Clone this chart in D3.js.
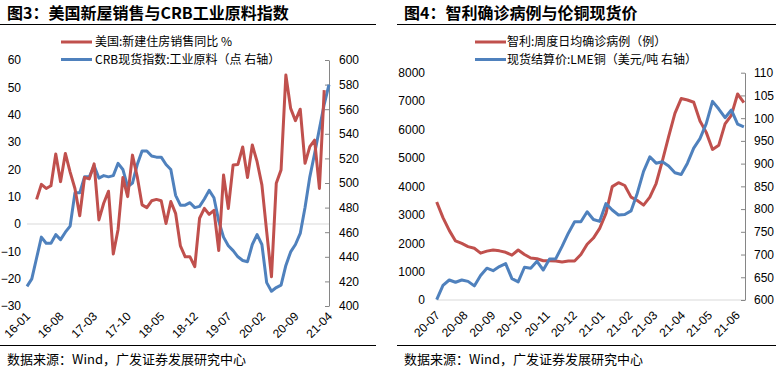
<!DOCTYPE html>
<html><head><meta charset="utf-8">
<script src="https://cdn.jsdelivr.net/npm/d3@7/dist/d3.min.js"></script>
<style>body{margin:0;background:#fff}svg{display:block}</style>
</head><body>
<svg id="c" width="776" height="370"></svg>
<script>
// ---------- Panel 1 data (monthly, 2016-01 .. 2021-04) ----------
const p1Start = new Date(2016, 0, 1), p1End = new Date(2021, 4, 1);
const salesYoY = [null,null,9,14.5,13,14,25.6,15.5,25.8,19,13,3,17,16.5,22,1.5,7.6,12,-11,-2,17,10,25.2,17.3,7,6,8.5,9,8.5,0.2,8.2,3.9,-8,-12,-12,-15.6,2.1,5.7,3.5,5,-9.7,17.9,5.7,21.6,21.8,28.2,17,28.9,22.8,14.3,-2.8,-19.3,14.9,19.8,54.5,42.3,37.8,42,22.2,28.3,30.7,13,49,null];
const crbIndex = [416,422,439,456,451,451,458,454,460,465,492,492,505,505,514,504,506,505,506,516,511,497,500,515,526,526,522,521,521,515,511,490,482,482,484,480,481,487,494,488,469,456,449,445,440,437,436,450,458,450,419,412,415,417,433,444,450,459,480,505,524,544,564,580];
const p1XTicks = ["16-01","16-08","17-03","17-10","18-05","18-12","19-07","20-02","20-09","21-04"];
const p1LeftTicks = [-30,-20,-10,0,10,20,30,40,50,60];
const p1RightTicks = [400,420,440,460,480,500,520,540,560,580,600];
const p1Title = "图3：美国新屋销售与CRB工业原料指数";
const p1Legend = ["美国:新建住房销售同比 %", "CRB现货指数:工业原料（点 右轴）"];

// ---------- Panel 2 data (weekly, from 2020-07-01) ----------
const p2Start = new Date(2020, 6, 1);
const chileCases = [3450,2900,2450,2080,1990,1880,1820,1650,1720,1760,1730,1680,1580,1760,1600,1480,1450,1380,1380,1370,1340,1370,1370,1600,1960,2180,2520,3050,3990,4130,4030,3620,3500,3340,3620,4100,4900,5750,6570,7090,7040,6960,6300,5900,5300,5450,6200,6500,7250,6950];
const lmeCopper = [6010,6320,6440,6390,6440,6410,6310,6540,6700,6645,6735,6800,6470,6400,6720,6700,6850,6660,6900,6910,7180,7470,7720,7720,7940,7770,7730,8120,7980,7870,7880,7960,8350,8830,9150,9010,9040,8950,8800,8760,9010,9340,9550,9880,10370,10200,10010,10180,9870,9810];
const p2XTicks = ["20-07","20-08","20-09","20-10","20-11","20-12","21-01","21-02","21-03","21-04","21-05","21-06"];
const p2LeftTicks = [0,1000,2000,3000,4000,5000,6000,7000,8000];
const p2RightTicks = [6000,6500,7000,7500,8000,8500,9000,9500,10000,10500,11000];
// right-axis labels as they appear in the reference (cut to three characters by the chart edge)
const p2RightLabels = ["600","650","700","750","800","850","900","950","100","105","110"];
const p2Title = "图4：智利确诊病例与伦铜现货价";
const p2Legend = ["智利:周度日均确诊病例（例）", "现货结算价:LME铜（美元/吨 右轴）"];

const sourceText = "数据来源：Wind，广发证券发展研究中心";

const RED = "#C0504D", BLUE = "#4F81BD";
const NUM = "'Liberation Sans', Arial, sans-serif";
const CJK = "'Noto Sans CJK SC', 'Noto Sans', sans-serif";

const svg = d3.select("#c");

function frame(x0, x1, title) {
  svg.append("text").attr("x", x0 + 7).attr("y", 18.5)
    .attr("font-family", CJK).attr("font-weight", "bold").attr("font-size", 16)
    .attr("fill", "#000").text(title);
  svg.append("line").attr("x1", x0).attr("x2", x1).attr("y1", 24.5).attr("y2", 24.5)
    .attr("stroke", "#000").attr("stroke-width", 1.2);
  svg.append("line").attr("x1", x0).attr("x2", x1).attr("y1", 345.5).attr("y2", 345.5)
    .attr("stroke", "#000").attr("stroke-width", 1.2);
  svg.append("text").attr("x", x0 + 7).attr("y", 363.5)
    .attr("font-family", CJK).attr("font-size", 13).attr("fill", "#000").text(sourceText);
}

function legend(lx, tx, labels) {
  [RED, BLUE].forEach((c, i) => {
    const y = 42 + i * 17.5;
    svg.append("line").attr("x1", lx).attr("x2", lx + 31).attr("y1", y).attr("y2", y)
      .attr("stroke", c).attr("stroke-width", 3);
    svg.append("text").attr("x", tx).attr("y", y).attr("dy", "0.35em")
      .attr("font-family", CJK).attr("font-size", 12).attr("fill", "#000").text(labels[i]);
  });
}

// ================= Panel 1 =================
frame(0, 376, p1Title);
const months1 = d3.timeMonth.range(p1Start, p1End);
const fmtM = d3.timeFormat("%y-%m");
const cats1 = months1.map(fmtM);
const x1 = d3.scalePoint().domain(cats1).range([27, 329]);
const yL1 = d3.scaleLinear().domain([-30, 60]).range([306, 60]);
const yR1 = d3.scaleLinear().domain([400, 600]).range([306, 60]);

svg.append("line").attr("x1", 27).attr("x2", 329).attr("y1", yL1(0)).attr("y2", yL1(0))
  .attr("stroke", "#d9d9d9").attr("stroke-width", 1);

const gL1 = svg.append("g").attr("transform", "translate(27,0)")
  .call(d3.axisLeft(yL1).tickValues(p1LeftTicks).tickSize(0).tickPadding(6));
gL1.select(".domain").remove();
gL1.selectAll("text").attr("font-family", NUM).attr("font-size", 12).attr("fill", "#000");

const gR1 = svg.append("g").attr("transform", "translate(329,0)")
  .call(d3.axisRight(yR1).tickValues(p1RightTicks).tickSize(0).tickPadding(10));
gR1.select(".domain").attr("stroke", "#868686");
gR1.selectAll(".tick line").attr("x1", -4).attr("x2", 0).attr("stroke", "#868686");
gR1.selectAll("text").attr("font-family", NUM).attr("font-size", 12).attr("fill", "#000");

svg.append("g").selectAll("text").data(p1XTicks).join("text")
  .attr("transform", d => `translate(${x1(d) + 1},314) rotate(-45)`)
  .attr("text-anchor", "end").attr("dy", "0.35em")
  .attr("font-family", NUM).attr("font-size", 12).attr("fill", "#000").text(d => d);

const line1L = d3.line().defined(d => d.v != null).x(d => x1(d.c)).y(d => yL1(d.v));
const line1R = d3.line().x(d => x1(d.c)).y(d => yR1(d.v));
svg.append("path").datum(cats1.map((c, i) => ({c, v: crbIndex[i]})))
  .attr("d", line1R).attr("fill", "none").attr("stroke", BLUE).attr("stroke-width", 3)
  .attr("stroke-linejoin", "round");
svg.append("path").datum(cats1.map((c, i) => ({c, v: salesYoY[i]})))
  .attr("d", line1L).attr("fill", "none").attr("stroke", RED).attr("stroke-width", 3)
  .attr("stroke-linejoin", "round");

legend(61, 95, p1Legend);

// ================= Panel 2 =================
frame(397, 776, p2Title);
const weeks = chileCases.map((_, k) => d3.timeDay.offset(p2Start, 7 * k));
const x2 = d3.scaleTime().domain([new Date(2020, 6, 1), new Date(2021, 5, 1)]).range([436.7, 736.7]);
const yL2 = d3.scaleLinear().domain([0, 8000]).range([300, 72.7]);
const yR2 = d3.scaleLinear().domain([6000, 11000]).range([300, 72.7]);
const x2End = 745;

svg.append("line").attr("x1", 436.7).attr("x2", x2End).attr("y1", 300).attr("y2", 300)
  .attr("stroke", "#d9d9d9").attr("stroke-width", 1);

const gL2 = svg.append("g").attr("transform", "translate(436,0)")
  .call(d3.axisLeft(yL2).tickValues(p2LeftTicks).tickSize(0).tickPadding(11).tickFormat(d3.format("d")));
gL2.select(".domain").remove();
gL2.selectAll("text").attr("font-family", NUM).attr("font-size", 12).attr("fill", "#000");

const gR2 = svg.append("g").attr("transform", `translate(${x2End},0)`)
  .call(d3.axisRight(yR2).tickValues(p2RightTicks).tickSize(0).tickPadding(9)
    .tickFormat((d, i) => p2RightLabels[i]));
gR2.select(".domain").attr("stroke", "#868686");
gR2.selectAll(".tick line").attr("x1", -4).attr("x2", 0).attr("stroke", "#868686");
gR2.selectAll("text").attr("font-family", NUM).attr("font-size", 12).attr("fill", "#000");

const parseM = d3.timeParse("%y-%m");
svg.append("g").selectAll("text").data(p2XTicks).join("text")
  .attr("transform", d => `translate(${x2(parseM(d)) + 1},313) rotate(-45)`)
  .attr("text-anchor", "end").attr("dy", "0.35em")
  .attr("font-family", NUM).attr("font-size", 12).attr("fill", "#000").text(d => d);

const line2L = d3.line().x(d => x2(d.t)).y(d => yL2(d.v));
const line2R = d3.line().x(d => x2(d.t)).y(d => yR2(d.v));
svg.append("path").datum(weeks.map((t, k) => ({t, v: chileCases[k]})))
  .attr("d", line2L).attr("fill", "none").attr("stroke", RED).attr("stroke-width", 3)
  .attr("stroke-linejoin", "round");
svg.append("path").datum(weeks.map((t, k) => ({t, v: lmeCopper[k]})))
  .attr("d", line2R).attr("fill", "none").attr("stroke", BLUE).attr("stroke-width", 3)
  .attr("stroke-linejoin", "round");

legend(475, 507, p2Legend);
</script>
</body></html>
